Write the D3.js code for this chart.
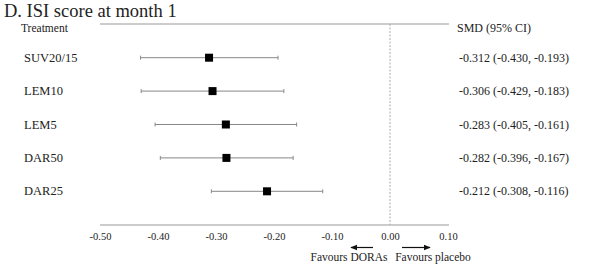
<!DOCTYPE html>
<html lang="en">
<head>
<meta charset="UTF-8">
<script src="https://d3js.org/d3.v7.min.js"></script>
<title>ISI forest plot</title>
<style>
  body { margin: 0; background: #fff; }
  svg, svg text { font-family: "Liberation Serif", "Times New Roman", Times, serif; }
  svg text { fill: #222; }
</style>
</head>
<body>
<script>
// data
var treatments = ["SUV20/15", "LEM10", "LEM5", "DAR50", "DAR25"];
var smd   = [-0.312, -0.306, -0.283, -0.282, -0.212];
var lower = [-0.430, -0.429, -0.405, -0.396, -0.308];
var upper = [-0.193, -0.183, -0.161, -0.167, -0.116];
var ticks = [-0.50, -0.40, -0.30, -0.20, -0.10, 0.00, 0.10];

var w = 600, h = 274;
var svg = d3.select("body").append("svg").attr("width", w).attr("height", h)
  .attr("font-family", "Liberation Serif, serif");

var x = d3.scaleLinear().domain([-0.5, 0.1]).range([100, 448]);
var y = d3.scaleBand().domain(treatments).range([41, 208]);
var yc = function(d) { return y(d) + y.bandwidth() / 2; };

// plain hyphen minus, like the original
var f3 = function(v) { return v.toFixed(3); };
var f2 = function(v) { return v.toFixed(2); };

// title
svg.append("text").attr("x", 4).attr("y", 17).style("font-size", "18.5px")
  .text("D. ISI score at month 1");

// top rule
svg.append("line").attr("x1", 100).attr("x2", 449).attr("y1", 24).attr("y2", 24)
  .attr("stroke", "#999").attr("stroke-width", 1);

var axis = d3.axisBottom(x).tickValues(ticks).tickFormat(f2).tickSize(0).tickPadding(8);
var ax = svg.append("g").attr("transform", "translate(0,225)").call(axis)
  .attr("font-family", "Liberation Serif, serif").attr("font-size", null);
ax.select(".domain").attr("stroke", "#999").attr("d", "M100,0H449");
ax.selectAll("text").style("font-size", "10.5px").attr("fill", "#333");

// null line
svg.append("line").attr("x1", x(0)).attr("x2", x(0)).attr("y1", 24).attr("y2", 225)
  .attr("stroke", "#aaa").attr("stroke-dasharray", "2,1.5");

// headers
svg.append("text").attr("x", 21).attr("y", 32).style("font-size", "11.5px").text("Treatment");
svg.append("text").attr("x", 457).attr("y", 32).style("font-size", "12px").text("SMD (95% CI)");

var rows = svg.selectAll("g.row").data(treatments).enter().append("g").attr("class", "row");

rows.append("text").attr("x", 24).attr("y", function(d) { return yc(d) + 4; })
  .style("font-size", "12.5px").text(function(d) { return d; });

rows.append("line")
  .attr("x1", function(d, i) { return x(lower[i]); })
  .attr("x2", function(d, i) { return x(upper[i]); })
  .attr("y1", yc).attr("y2", yc)
  .attr("stroke", "#888").attr("stroke-width", 1);

rows.selectAll("line.cap").data(function(d, i) { return [lower[i], upper[i]].map(function(v) { return {v: v, t: d}; }); })
  .enter().append("line").attr("class", "cap")
  .attr("x1", function(c) { return x(c.v); }).attr("x2", function(c) { return x(c.v); })
  .attr("y1", function(c) { return yc(c.t) - 2; }).attr("y2", function(c) { return yc(c.t) + 2; })
  .attr("stroke", "#888");

rows.append("rect")
  .attr("x", function(d, i) { return x(smd[i]) - 4; })
  .attr("y", function(d) { return yc(d) - 4; })
  .attr("width", 8).attr("height", 8).attr("fill", "#000");

rows.append("text").attr("x", 459).attr("y", function(d) { return yc(d) + 4; })
  .style("font-size", "12px")
  .text(function(d, i) { return f3(smd[i]) + " (" + f3(lower[i]) + ", " + f3(upper[i]) + ")"; });

// favours annotations
svg.append("defs").append("marker").attr("id", "ah").attr("viewBox", "0 0 10 10")
  .attr("refX", 9).attr("refY", 5).attr("markerWidth", 6).attr("markerHeight", 6)
  .attr("orient", "auto-start-reverse")
  .append("path").attr("d", "M0,1L10,5L0,9Z").attr("fill", "#111");

svg.append("line").attr("x1", 373).attr("x2", 351).attr("y1", 247.5).attr("y2", 247.5)
  .attr("stroke", "#111").attr("stroke-width", 1.2).attr("marker-end", "url(#ah)");
svg.append("line").attr("x1", 402).attr("x2", 430).attr("y1", 247.5).attr("y2", 247.5)
  .attr("stroke", "#111").attr("stroke-width", 1.2).attr("marker-end", "url(#ah)");

svg.append("text").attr("x", 349).attr("y", 261).attr("text-anchor", "middle")
  .style("font-size", "11.5px").text("Favours DORAs");
svg.append("text").attr("x", 433).attr("y", 261).attr("text-anchor", "middle")
  .style("font-size", "11.5px").text("Favours placebo");
</script>
</body>
</html>
